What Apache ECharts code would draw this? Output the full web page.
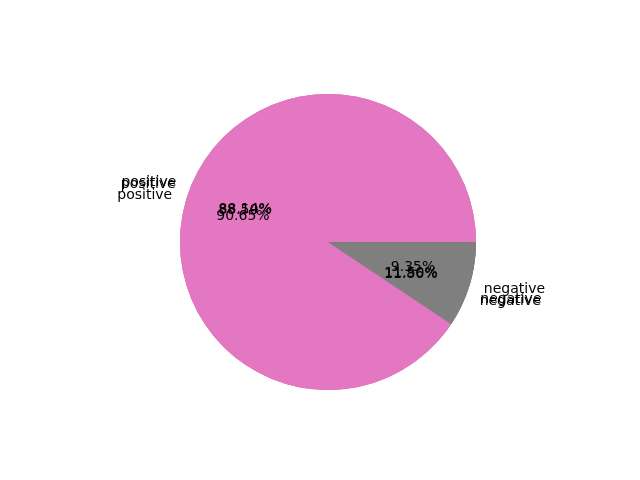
<!DOCTYPE html>
<html><head><meta charset="utf-8">
<script src="https://cdn.jsdelivr.net/npm/echarts@6/dist/echarts.min.js"></script>
<style>html,body{margin:0;padding:0;background:#fff}#c{width:640px;height:480px}</style>
</head><body><div id="c"></div>
<script>
const categories = ['positive', 'negative'];
const pieA = [88.14, 11.86];
const pieB = [88.50, 11.50];
const pieC = [90.65, 9.35];
const colors = ['#e377c2', '#7f7f7f'];

const CX = 328, CY = 242, R = 148;
const font = 'DejaVu Sans';

function mk(vals) {
  return categories.map((n, i) => ({ name: n, value: vals[i] }));
}
const series = [];
[pieA, pieB, pieC].forEach((vals, k) => {
  series.push({
    type: 'pie', z: 2 + k, center: [CX, CY], radius: [0, R],
    startAngle: 0, clockwise: false, animation: false, silent: true,
    avoidLabelOverlap: false,
    labelLayout: { hideOverlap: false },
    itemStyle: { borderWidth: 0 },
    color: colors,
    label: { show: true, position: 'outside', formatter: '{b}', color: '#000',
             fontFamily: font, fontSize: 14, distanceToLabelLine: 0 },
    labelLine: { show: false, length: R * 0.1, length2: 0 },
    emphasis: { disabled: true },
    data: mk(vals)
  });
});
[pieA, pieB, pieC].forEach((vals, k) => {
  series.push({
    type: 'pie', z: 10 + k, center: [CX, CY], radius: [R * 0.16, R],
    startAngle: 0, clockwise: false, animation: false, silent: true,
    avoidLabelOverlap: false,
    labelLayout: { hideOverlap: false },
    itemStyle: { color: 'rgba(0,0,0,0)', borderWidth: 0 },
    label: { show: true, position: 'inner', color: '#000', fontFamily: font, fontSize: 14,
             formatter: p => p.percent.toFixed(2) + '%' },
    labelLine: { show: false },
    emphasis: { disabled: true },
    data: mk(vals)
  });
});

const chart = echarts.init(document.getElementById('c'), null, { renderer: 'canvas' });
chart.setOption({ backgroundColor: '#fff', animation: false, series });
</script></body></html>
